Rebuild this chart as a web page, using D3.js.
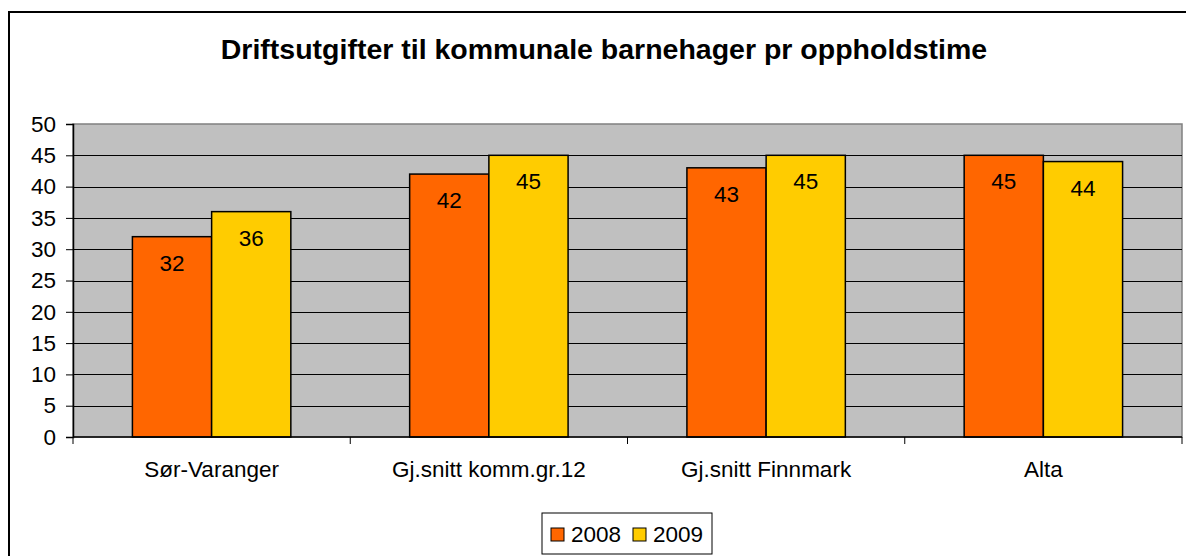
<!DOCTYPE html>
<html>
<head>
<meta charset="utf-8">
<script src="https://cdn.jsdelivr.net/npm/d3@7"></script>
<style>
  body { margin: 0; background: #fff; }
  text { font-family: Arial, "Liberation Sans", sans-serif; }
</style>
</head>
<body>
<script>
var categories = ["Sør-Varanger", "Gj.snitt komm.gr.12", "Gj.snitt Finnmark", "Alta"];
var seriesNames = ["2008", "2009"];
var values2008 = [32, 42, 43, 45];
var values2009 = [36, 45, 45, 44];
var yTicks = [0, 5, 10, 15, 20, 25, 30, 35, 40, 45, 50];
var colors = ["#FF6600", "#FFCC00"];

function main() {
    var width = 1186, height = 556;
    var left = 73, right = 1182, top = 124, bottom = 437;

    var svg = d3.select("body").append("svg")
        .attr("width", width).attr("height", height);

    // chart frame
    svg.append("rect")
        .attr("x", 9).attr("y", 12)
        .attr("width", 1200).attr("height", 600)
        .attr("fill", "#fff").attr("stroke", "#000").attr("stroke-width", 2);

    svg.append("text")
        .text("Driftsutgifter til kommunale barnehager pr oppholdstime")
        .attr("x", 604).attr("y", 59)
        .attr("text-anchor", "middle")
        .attr("font-size", "28.5px").attr("font-weight", "bold");

    var y = d3.scaleLinear().domain([0, 50]).range([bottom, top]);
    var x0 = d3.scaleBand().domain(categories).range([left, right]).padding(0);
    var step = x0.bandwidth();
    var barW = step / 3.5;
    var x1 = d3.scaleBand().domain(seriesNames)
        .range([barW * 0.75, step - barW * 0.75]).padding(0);

    // plot area
    svg.append("rect")
        .attr("x", left).attr("y", top)
        .attr("width", right - left).attr("height", bottom - top)
        .attr("fill", "#C0C0C0").attr("stroke", "#808080").attr("stroke-width", 1.5);

    svg.selectAll("line.grid")
        .data(yTicks.filter(function(d) { return d > 0 && d < 50; }))
        .enter().append("line")
        .attr("x1", left).attr("x2", right)
        .attr("y1", function(d) { return Math.round(y(d)) + 0.5; })
        .attr("y2", function(d) { return Math.round(y(d)) + 0.5; })
        .attr("stroke", "#000").attr("stroke-width", 1);

    var data = [];
    categories.forEach(function(c, i) {
        data.push({ cat: c, s: "2008", v: values2008[i], color: colors[0] });
        data.push({ cat: c, s: "2009", v: values2009[i], color: colors[1] });
    });

    svg.selectAll("rect.bar")
        .data(data)
        .enter().append("rect")
        .attr("class", "bar")
        .attr("x", function(d) { return x0(d.cat) + x1(d.s); })
        .attr("y", function(d) { return y(d.v); })
        .attr("width", x1.bandwidth())
        .attr("height", function(d) { return y(0) - y(d.v); })
        .attr("fill", function(d) { return d.color; })
        .attr("stroke", "#000").attr("stroke-width", 1.5);

    svg.selectAll("text.val")
        .data(data)
        .enter().append("text")
        .text(function(d) { return d.v; })
        .attr("x", function(d) { return x0(d.cat) + x1(d.s) + x1.bandwidth() / 2; })
        .attr("y", function(d) { return y(d.v) + 34; })
        .attr("text-anchor", "middle")
        .attr("font-size", "22.5px");

    // y axis
    var yAxis = d3.axisLeft(y).tickValues(yTicks).tickSize(7).tickPadding(10);
    var gy = svg.append("g").attr("transform", "translate(" + left + ",0)").call(yAxis);
    gy.select(".domain").attr("stroke", "#000").attr("stroke-width", 1.5);
    gy.selectAll("text").attr("font-size", "22.5px").attr("fill", "#000")
        .attr("font-family", "Arial, 'Liberation Sans', sans-serif");

    // x axis
    svg.append("line")
        .attr("x1", left).attr("x2", right)
        .attr("y1", bottom).attr("y2", bottom)
        .attr("stroke", "#000").attr("stroke-width", 1.5);
    var bounds = categories.map(function(c) { return x0(c); }).concat([right]);
    svg.selectAll("line.xtick")
        .data(bounds)
        .enter().append("line")
        .attr("x1", function(d) { return d; }).attr("x2", function(d) { return d; })
        .attr("y1", bottom).attr("y2", bottom + 7)
        .attr("stroke", "#000").attr("stroke-width", 1);

    svg.selectAll("text.cat")
        .data(categories)
        .enter().append("text")
        .text(function(d) { return d; })
        .attr("x", function(d) { return x0(d) + step / 2; })
        .attr("y", 477)
        .attr("text-anchor", "middle")
        .attr("font-size", "22.5px");

    // legend
    var lg = svg.append("g");
    lg.append("rect")
        .attr("x", 542).attr("y", 513).attr("width", 170).attr("height", 41)
        .attr("fill", "#fff").attr("stroke", "#000").attr("stroke-width", 1);
    var items = lg.selectAll("g.item")
        .data(seriesNames)
        .enter().append("g")
        .attr("transform", function(d, i) { return "translate(" + (551 + i * 82) + ",0)"; });
    items.append("rect")
        .attr("x", 0).attr("y", 528).attr("width", 13).attr("height", 13)
        .attr("fill", function(d, i) { return colors[i]; })
        .attr("stroke", "#000").attr("stroke-width", 1);
    items.append("text")
        .text(function(d) { return d; })
        .attr("x", 20).attr("y", 542)
        .attr("font-size", "22.5px");
}

window.onload = main;
</script>
</body>
</html>
